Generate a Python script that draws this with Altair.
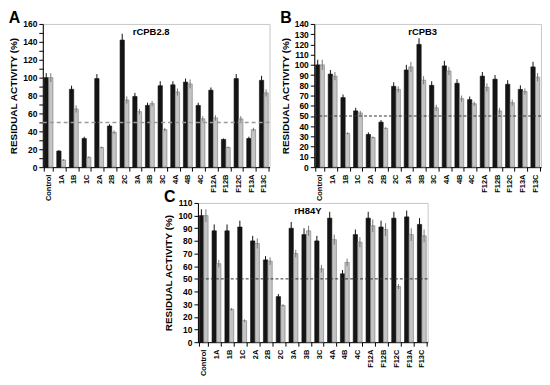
import altair as alt
import pandas as pd

FONT = "Liberation Sans"

cats = ["Control", "1A", "1B", "1C", "2A", "2B", "2C", "3A", "3B", "3C",
        "4A", "4B", "4C", "F12A", "F12B", "F12C", "F13A", "F13C"]

# Panel A: rCPB2.8
a_black = [100, 18, 87, 32, 99, 46, 142, 79, 69, 91, 92, 95, 69, 86, 31, 99, 32, 97]
a_gray = [100, 8, 65, 11, 22, 39, 75, 62, 71, 42, 84, 93, 54, 55, 22, 54, 42, 83]
a_black_err = [5, 1, 4, 2, 5, 2, 7, 4, 3, 5, 4, 4, 3, 3, 1, 5, 2, 5]
a_gray_err = [5, 1, 4, 1, 1, 2, 4, 3, 3, 2, 4, 5, 3, 3, 1, 3, 2, 4]

# Panel B: rCPB3
b_black = [100, 91, 68, 55, 32, 44, 79, 95, 120, 80, 99, 82, 66, 89, 86, 81, 76, 98]
b_gray = [100, 89, 33, 53, 29, 38, 76, 98, 85, 58, 94, 67, 62, 78, 55, 63, 74, 88]
b_black_err = [5, 4, 3, 3, 2, 2, 4, 5, 6, 4, 5, 4, 3, 4, 4, 4, 4, 5]
b_gray_err = [5, 4, 1, 2, 1, 1, 3, 5, 4, 3, 4, 3, 2, 4, 3, 3, 3, 4]

# Panel C: rH84Y
c_black = [100, 88, 88, 91, 80, 65, 36, 90, 85, 80, 98, 54, 85, 98, 91, 98, 99, 93]
c_gray = [100, 62, 26, 17, 78, 64, 29, 70, 88, 58, 81, 63, 79, 92, 89, 44, 85, 84]
c_black_err = [5, 5, 5, 5, 4, 3, 2, 5, 5, 4, 5, 3, 4, 5, 5, 5, 5, 5]
c_gray_err = [5, 3, 1, 1, 4, 3, 1, 3, 4, 3, 4, 3, 4, 5, 5, 2, 5, 5]


def make_df(black, gray, eb, eg):
    rows = []
    for i, c in enumerate(cats):
        rows.append({"cat": c, "s": "a", "v": black[i],
                     "lo": black[i] - eb[i], "hi": black[i] + eb[i]})
        rows.append({"cat": c, "s": "b", "v": gray[i],
                     "lo": gray[i] - eg[i], "hi": gray[i] + eg[i]})
    return pd.DataFrame(rows)


def panel(letter, name, black, gray, eb, eg, ymax, label_step, w, h,
          dash_color, dash, dash_w):
    df = make_df(black, gray, eb, eg)
    xscale = alt.Scale(paddingInner=0.3, paddingOuter=0.1)
    xaxis = alt.Axis(labelAngle=270, labelFontSize=7.5, labelFontWeight="bold",
                     labelFont=FONT, tickBand="extent", tickSize=4,
                     labelPadding=3, labelBaseline="middle", labelAlign="right",
                     labelOverlap=False)
    yscale = alt.Scale(domain=[0, ymax], nice=False)
    yaxis = alt.Axis(values=list(range(0, ymax + 1, 10)),
                     labelExpr=f"datum.value % {label_step} == 0 ? datum.label : ''",
                     title="RESIDUAL ACTIVITY (%)", titleFontSize=10,
                     labelFontSize=8.5, tickSize=4, labelPadding=2,
                     titlePadding=4, grid=False, labelOverlap=False)
    fill_scale = alt.Scale(domain=["a", "b"], range=["#151515", "#c4c4c4"])
    stroke_scale = alt.Scale(domain=["a", "b"], range=["#111111", "#777777"])

    base = alt.Chart(df)
    bars = base.mark_bar(strokeWidth=0.6).encode(
        x=alt.X("cat:N", sort=cats, title=None, scale=xscale, axis=xaxis),
        xOffset=alt.XOffset("s:N", scale=alt.Scale(paddingInner=0.05)),
        y=alt.Y("v:Q", scale=yscale, axis=yaxis),
        fill=alt.Fill("s:N", scale=fill_scale, legend=None),
        stroke=alt.Stroke("s:N", scale=stroke_scale, legend=None),
    )
    errs = base.mark_rule(strokeWidth=1).encode(
        x=alt.X("cat:N", sort=cats, title=None, scale=xscale, axis=xaxis),
        xOffset=alt.XOffset("s:N"),
        y=alt.Y("lo:Q", scale=yscale, axis=yaxis),
        y2="hi:Q",
        stroke=alt.Stroke("s:N", scale=stroke_scale, legend=None),
    )
    dline = alt.Chart(pd.DataFrame({"y": [50]})).mark_rule(
        strokeDash=dash, color=dash_color, strokeWidth=dash_w
    ).encode(y=alt.Y("y:Q", scale=yscale, axis=yaxis))
    sub = alt.Chart(pd.DataFrame({"t": [name]})).mark_text(
        font=FONT, fontWeight="bold", fontSize=9.5, baseline="middle",
        align="center", color="black"
    ).encode(text="t:N", x=alt.value(w / 2 - 5), y=alt.value(8))

    return alt.layer(bars, errs, dline, sub).properties(
        width=w, height=h,
        title=alt.TitleParams(text=letter, anchor="start", frame="bounds",
                              fontSize=16, fontWeight="bold", font=FONT,
                              color="black", offset=-6),
    )


pA = panel("A", "rCPB2.8", a_black, a_gray, a_black_err, a_gray_err,
           160, 20, 228, 144, "#9a9a9a", [4, 3], 1.5)
pB = panel("B", "rCPB3", b_black, b_gray, b_black_err, b_gray_err,
           140, 10, 228, 144, "#333333", [3, 2], 1)
pC = panel("C", "rH84Y", c_black, c_gray, c_black_err, c_gray_err,
           110, 10, 231, 140, "#333333", [3, 2], 1)

spacer = alt.Chart(pd.DataFrame({"a": [0]})).mark_point(opacity=0).properties(
    width=120, height=10, view=alt.ViewBackground(stroke="transparent"))

row1 = alt.hconcat(pA, pB, spacing=8)
row2 = alt.hconcat(spacer, pC, spacing=0)

chart = alt.vconcat(row1, row2, spacing=-14, padding=0).configure_view(
    stroke="#c8c8c8"
).configure_axis(
    domainColor="black", tickColor="black", labelColor="black",
    titleColor="black", labelFont=FONT, titleFont=FONT,
    labelFontWeight="bold", titleFontWeight="bold"
).configure_axisY(labelOverlap=False)

chart.save("out.html", embed_options={"renderer": "svg", "actions": False})
